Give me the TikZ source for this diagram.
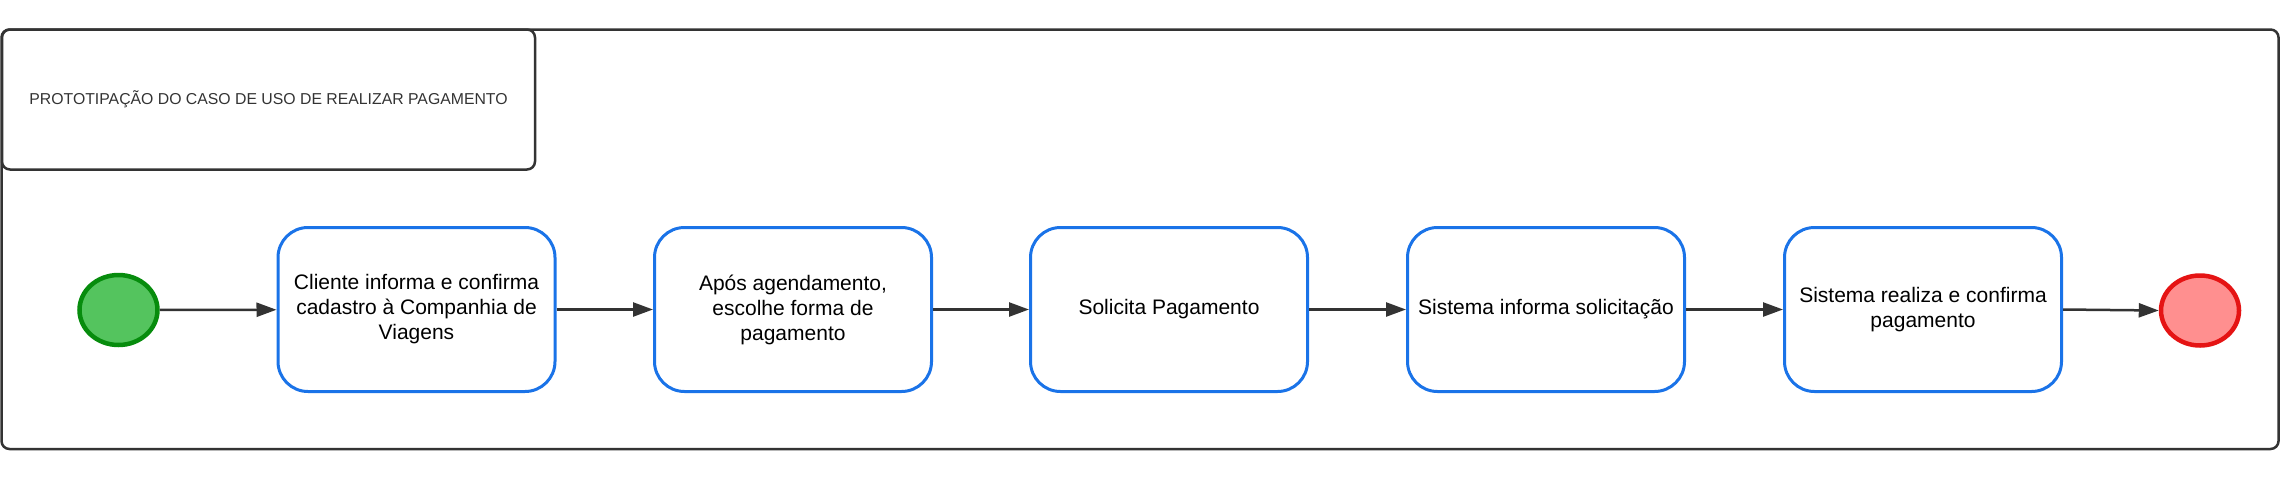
\documentclass[tikz,border=0pt]{standalone}
\usepackage{fontspec}
\setmainfont{Liberation Sans}
\usetikzlibrary{arrows.meta,shapes.geometric}
\definecolor{lineg}{HTML}{333333}
\definecolor{boxblue}{HTML}{1A73E8}
\definecolor{startfill}{HTML}{54C45E}
\definecolor{startdraw}{HTML}{078C0D}
\definecolor{endfill}{HTML}{FF8F8F}
\definecolor{enddraw}{HTML}{E51414}
\begin{document}
\begin{tikzpicture}[x=1pt,y=1pt,
  frame/.style={draw=lineg, line width=2.5pt, rounded corners=8pt},
  titlebox/.style={draw=lineg, line width=2.5pt, rounded corners=8pt, minimum width=533pt, minimum height=140pt, inner sep=0pt, text=lineg, font=\fontsize{15.8}{18}\selectfont},
  stepbox/.style={draw=boxblue, line width=3pt, rounded corners=30pt, minimum width=277pt, minimum height=164pt, fill=white, align=center, inner sep=0pt, font=\fontsize{21}{25}\selectfont},
  startev/.style={ellipse, draw=startdraw, fill=startfill, line width=4.5pt, minimum width=78pt, minimum height=70pt, inner sep=0pt},
  endev/.style={ellipse, draw=enddraw, fill=endfill, line width=4.5pt, minimum width=78pt, minimum height=70pt, inner sep=0pt},
  flow/.style={draw=lineg, line width=2.5pt, -{Triangle[length=20pt,width=14pt]}}
]
\useasboundingbox (0,0) rectangle (2280,-483);
\draw[frame] (1.5,-29.5) rectangle (2278.5,-449);
\node[titlebox] (title) at (268.5,-99.5) {PROTOTIPAÇÃO DO CASO DE USO DE REALIZAR PAGAMENTO};
\node[startev] (start) at (118.5,-310) {};
\node[stepbox] (b1) at (416.5,-309.5) {Cliente informa e confirma\\cadastro à Companhia de\\Viagens};
\node[stepbox] (b2) at (793,-309.5) {Após agendamento,\\escolhe forma de\\pagamento};
\node[stepbox] (b3) at (1169,-309.5) {Solicita Pagamento};
\node[stepbox] (b4) at (1546,-309.5) {Sistema informa solicitação};
\node[stepbox] (b5) at (1923,-309.5) {Sistema realiza e confirma\\pagamento};
\node[endev] (stop) at (2200,-310.5) {};
\draw[flow] (start) -- (b1);
\draw[flow] (b1) -- (b2);
\draw[flow] (b2) -- (b3);
\draw[flow] (b3) -- (b4);
\draw[flow] (b4) -- (b5);
\draw[flow] (b5.east) -- (stop.west);
\end{tikzpicture}
\end{document}
